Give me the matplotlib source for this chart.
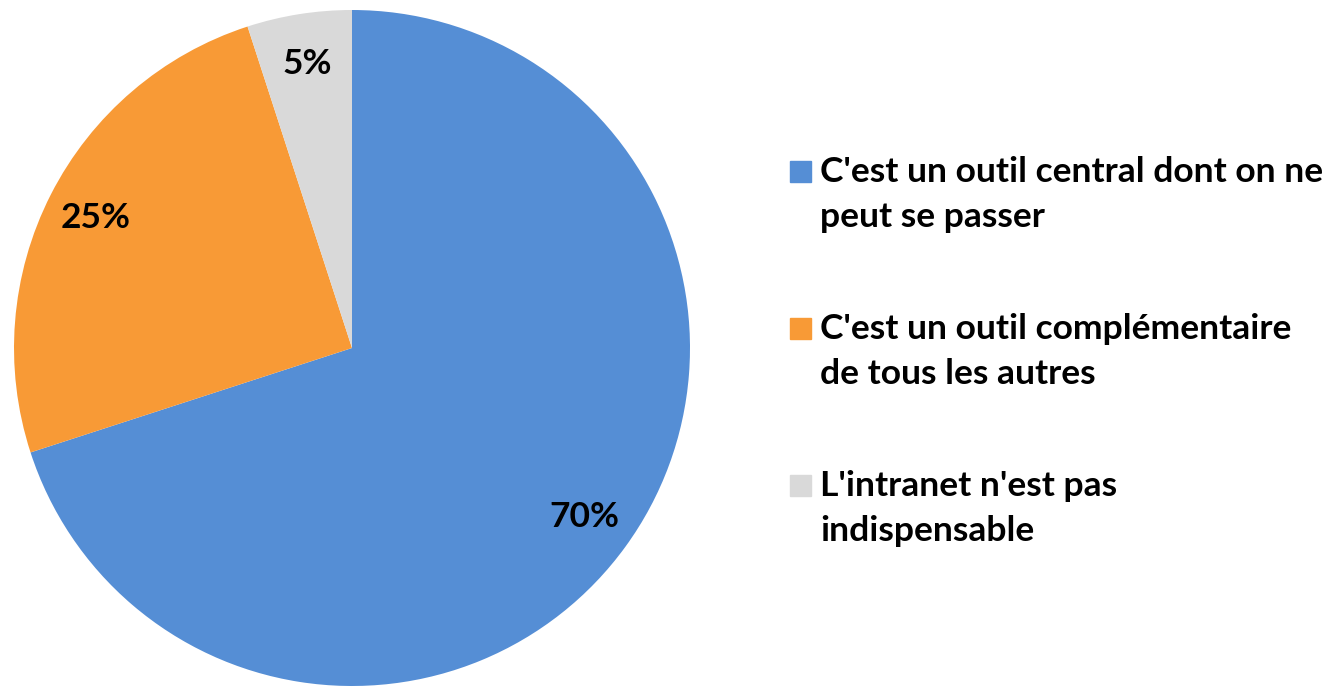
import numpy as np
from matplotlib import pyplot as pl
from matplotlib.patches import Rectangle

###############################################################################
labels = ["C'est un outil central dont on ne\npeut se passer",
          "C'est un outil complémentaire\nde tous les autres",
          "L'intranet n'est pas\nindispensable"]
values = [70, 25, 5]
pct_labels = ['70%', '25%', '5%']
colors = ['#558ED5', '#F89A36', '#D9D9D9']

W, H = 1323, 688
fs = 25.5
###############################################################################
pl.rcParams['font.family'] = ['Lato', 'DejaVu Sans']

fig = pl.figure(figsize=(W / 100, H / 100), dpi=100)

# pie : centre (352,348) px, radius 338 px
cx, cy, r = 352, 348, 338
ax = fig.add_axes([(cx - r) / W, (H - cy - r) / H, 2 * r / W, 2 * r / H])
wedges, _ = ax.pie(values, colors=colors, startangle=90, counterclock=False,
                   radius=1, wedgeprops=dict(linewidth=0))
for w, txt in zip(wedges, pct_labels):
    ang = np.deg2rad((w.theta1 + w.theta2) / 2)
    d = 0.85
    ax.text(d * np.cos(ang), d * np.sin(ang), txt, ha='center', va='center',
            fontsize=fs, fontweight='bold', color='black')
ax.set_xlim(-1, 1)
ax.set_ylim(-1, 1)
ax.set_aspect('auto')
ax.axis('off')

# legend drawn by hand
sq = 21
for i, (lab, col) in enumerate(zip(labels, colors)):
    top = 161 + 157 * i
    fig.patches.append(Rectangle((790 / W, 1 - (top + sq) / H), sq / W, sq / H,
                                 transform=fig.transFigure, color=col))
    for j, line in enumerate(lab.split('\n')):
        base = top + sq + 45 * j
        fig.text(820 / W, 1 - base / H, line, ha='left', va='baseline',
                 fontsize=fs, fontweight='bold', color='black')

pl.savefig('out.png', dpi=100)
